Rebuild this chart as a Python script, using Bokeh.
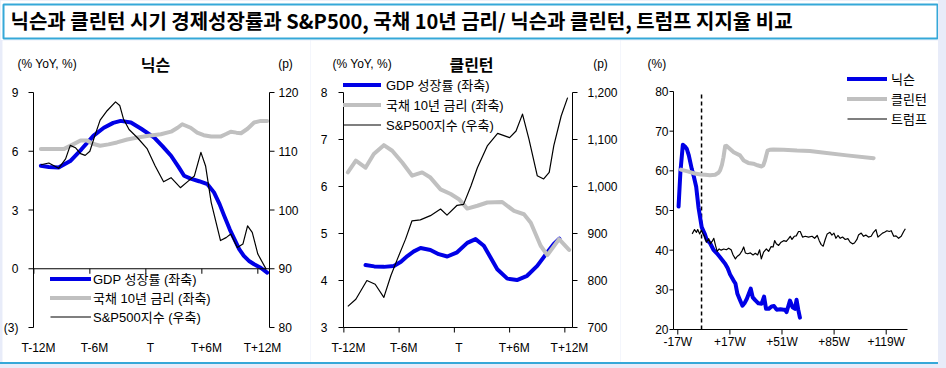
from bokeh.plotting import figure
from bokeh.models import (Range1d, Label, Legend, LegendItem, Spacer, GlobalInlineStyleSheet)
from bokeh.layouts import column, row
from bokeh.core.properties import value
from bokeh.embed import file_html
from bokeh.resources import INLINE

# ---------------- data ----------------
TITLE = "닉슨과 클린턴 시기 경제성장률과 S&P500, 국채 10년 금리/ 닉슨과 클린턴, 트럼프 지지율 비교"

month_ticks = [-12, -6, 0, 6, 12]
month_labels = ["T-12M", "T-6M", "T", "T+6M", "T+12M"]

nx_left_ticks = [-3, 0, 3, 6, 9]
nx_left_labels = ["(3)", "0", "3", "6", "9"]
nx_right_ticks = [80, 90, 100, 110, 120]
nx_right_labels = ["80", "90", "100", "110", "120"]

cl_left_ticks = [3, 4, 5, 6, 7, 8]
cl_left_labels = ["3", "4", "5", "6", "7", "8"]
cl_right_ticks = [700, 800, 900, 1000, 1100, 1200]
cl_right_labels = ["700", "800", "900", "1,000", "1,100", "1,200"]

ap_ticks = [20, 30, 40, 50, 60, 70, 80]
ap_labels = ["20", "30", "40", "50", "60", "70", "80"]

# Nixon (months relative to T)
nx_gdp_m = [-11.75, -10.9, -9.85, -8.6, -7.4, -6.1, -5.0, -4.0, -3.2, -2.1, -1.0, 0.4, 1.3, 2.2, 3.0,
            3.6, 4.3, 5.2, 6.1, 6.8, 7.4, 7.9, 8.5, 9.0, 9.5, 10.0, 10.6, 11.1, 11.8, 12.5]
nx_gdp = [5.26, 5.2, 5.17, 5.5, 6.1, 6.8, 7.2, 7.45, 7.55, 7.47, 7.15, 6.7, 6.25, 5.77, 5.2,
          4.75, 4.6, 4.47, 4.32, 3.9, 3.3, 2.7, 2.0, 1.5, 1.0, 0.66, 0.38, 0.23, 0.05, -0.2]
nx_bond_m = [-11.75, -9.3, -8.3, -7.5, -6.8, -6.2, -5.4, -4.5, -3.6, -2.5, -1.4, 0.0, 1.1, 2.2, 2.9,
             3.4, 4.3, 5.0, 5.7, 6.5, 7.5, 8.1, 8.6, 9.2, 9.7, 10.4, 11.1, 11.8, 12.5]
nx_bond = [6.11, 6.11, 6.35, 6.55, 6.55, 6.38, 6.28, 6.35, 6.45, 6.6, 6.7, 6.8, 6.87, 7.0, 7.2,
           7.38, 7.2, 6.95, 6.82, 6.75, 6.75, 6.88, 7.0, 6.95, 6.92, 7.15, 7.47, 7.55, 7.55]
nx_sp_m = [-11.75, -10.9, -9.85, -9.1, -8.6, -8.05, -7.5, -7.0, -6.5, -6.0, -5.4, -4.65, -3.75, -3.3,
           -2.9, -2.3, -1.4, -0.35, 0.5, 1.4, 2.2, 3.2, 4.1, 4.7, 5.4, 5.9, 6.5, 7.5, 8.1, 8.6, 9.3,
           9.9, 10.4, 10.9, 11.5, 12.4]
nx_sp = [107.7, 108.0, 107.1, 108.7, 111.0, 110.6, 109.6, 109.3, 110.0, 112.5, 115.3, 116.9, 118.4, 117.8,
         115.5, 113.7, 112.3, 110.4, 107.5, 104.8, 105.5, 103.8, 105.0, 105.8, 109.8, 107.5, 101.3, 94.8,
         95.3, 95.9, 93.6, 94.2, 97.3, 96.2, 92.5, 89.9]

# Clinton (months relative to T)
cl_gdp_m = [-10.15, -9.2, -8.16, -7.07, -6.3, -5.6, -4.9, -4.17, -3.1, -2.2, -1.27, -0.2, 0.9, 1.8,
            2.7, 3.4, 4.16, 5.25, 6.3, 7.4, 8.5, 9.6, 10.3, 10.9]
cl_gdp = [4.33, 4.3, 4.29, 4.31, 4.4, 4.52, 4.62, 4.69, 4.65, 4.56, 4.51, 4.6, 4.8, 4.88,
          4.74, 4.5, 4.24, 4.04, 4.01, 4.1, 4.31, 4.6, 4.78, 4.89]
cl_bond_m = [-12.07, -11.2, -10.15, -9.25, -8.16, -7.25, -6.16, -5.08, -4.0, -3.1, -2.0, -0.9, 0.0,
             0.9, 2.0, 3.08, 4.7, 5.98, 7.06, 7.8, 8.87, 9.6, 10.87, 11.96]
cl_bond = [6.3, 6.55, 6.4, 6.69, 6.88, 6.76, 6.51, 6.23, 6.3, 6.19, 5.94, 5.84, 5.73,
           5.53, 5.59, 5.66, 5.67, 5.48, 5.41, 5.23, 4.74, 4.54, 4.88, 4.65]
cl_sp_m = [-12.07, -11.2, -10.0, -9.1, -8.16, -7.4, -6.7, -5.8, -5.1, -4.2, -3.1, -2.0, -1.3, -0.2,
           0.5, 1.3, 2.0, 3.1, 4.2, 5.5, 6.2, 6.9, 7.6, 8.5, 9.2, 9.8, 10.3, 11.1, 11.8]
cl_sp = [745, 760, 800, 792, 764, 810, 845, 888, 927, 929, 938, 952, 939, 960,
         962, 1001, 1040, 1087, 1113, 1104, 1118, 1154, 1101, 1023, 1016, 1030, 1087, 1150, 1189]

# Approval ratings (weeks)
week_ticks = [-17, 17, 51, 85, 119]
week_labels = ["-17W", "+17W", "+51W", "+85W", "+119W"]
inaug_week = -1.5

nixon_w = [-16.5, -15.3, -13.7, -12.0, -11.1, -9.8, -7.9, -6.5, -5.0, -3.5, -1.4, 0.5, 1.9, 4.0, 6.3,
           8.5, 10.6, 13.9, 15.5, 17.1, 19.3, 20.6, 21.9, 23.5, 25.2, 26.5, 28.0, 30.6, 31.9, 33.5,
           35.6, 37.7, 39.3, 40.6, 42.3, 44.2, 45.8, 47.5, 50.0, 52.1, 53.0, 54.0, 55.2, 56.2, 57.9,
           59.5, 60.5, 61.6, 62.7]
nixon_v = [51.0, 59.7, 66.6, 66.0, 65.5, 63.9, 60.5, 58.5, 56.0, 50.8, 45.8, 44.2, 42.6, 41.8, 40.1,
           39.2, 38.2, 36.6, 35.5, 33.9, 32.4, 31.6, 29.0, 27.5, 26.0, 26.6, 27.7, 30.3, 28.1, 27.4,
           26.6, 26.5, 28.3, 25.2, 25.2, 25.8, 25.9, 25.0, 25.1, 25.0, 25.0, 24.4, 26.0, 27.3, 25.6,
           25.2, 27.5, 25.0, 23.0]
clinton_w = [-15.0, -10.0, -6.8, -2.0, 0.8, 4.0, 7.4, 9.5, 10.6, 11.8, 12.8, 13.9, 14.7, 17.1, 19.5,
             23.6, 26.0, 29.0, 32.3, 35.0, 37.7, 38.8, 39.9, 40.8, 41.6, 43.0, 45.3, 52.0, 60.8, 69.2,
             76.0, 93.4, 110.8]
clinton_v = [60.3, 59.8, 59.4, 59.1, 59.0, 58.9, 59.0, 59.5, 60.1, 61.5, 63.4, 66.2, 66.3, 65.5, 64.7,
             63.9, 62.6, 62.0, 61.8, 61.4, 61.1, 61.4, 62.6, 64.0, 65.1, 65.3, 65.4, 65.3, 65.1, 65.0,
             64.7, 63.9, 63.2]
trump_w = [-7.6, -6.1, -4.8, -4.0, -2.7, -1.6, -0.5, 0.4, 1.7, 3.2, 4.3, 5.4, 6.5, 7.6, 8.7, 10.0,
           11.3, 13.0, 14.7, 16.2, 17.8, 19.1, 20.6, 21.7, 23.4, 25.0, 26.0, 27.1, 28.6, 30.4, 32.1,
           33.6, 35.1, 36.4, 37.5, 39.0, 40.8, 42.3, 43.9, 45.2, 46.2, 47.3, 48.8, 50.4, 52.1, 53.8,
           55.3, 56.4, 57.5, 59.0, 60.3, 61.8,
           62.9, 64.4, 66.2, 68.3, 70.6, 72.3, 74.0, 75.3, 76.6, 77.9, 79.2, 80.5, 82.3, 83.6, 84.9,
           86.2, 87.5, 89.0, 90.5, 92.3, 94.0, 95.5, 97.0, 98.3, 99.9, 100.9, 102.7, 104.2, 105.7,
           107.4, 109.2, 110.7, 112.3, 113.6, 115.1, 116.6, 117.9, 119.5, 121.0, 122.3, 123.9, 125.4,
           127.1, 128.8, 130.4, 131.5]
trump_v = [44.1, 45.2, 44.5, 45.2, 44.1, 45.0, 44.1, 43.5, 42.0, 42.9, 41.6, 42.2, 43.0, 41.2, 39.7, 40.3,
           40.0, 40.3, 40.1, 40.5, 40.1, 38.8, 37.8, 38.4, 38.9, 39.9, 40.8, 39.3, 39.1, 39.3, 38.8,
           39.2, 38.8, 40.1, 37.8, 39.5, 40.3, 39.7, 40.9, 40.8, 42.4, 41.6, 41.2, 42.0, 42.4, 42.2,
           42.9, 43.5, 42.7, 43.5, 43.6, 44.7,
           44.7, 43.3, 43.5, 43.3, 43.5, 43.0, 43.7, 42.4, 41.4, 41.0, 42.7, 44.1, 44.5, 43.8, 44.3,
           43.0, 43.7, 43.0, 43.3, 42.7, 42.9, 42.0, 41.6, 41.8, 42.7, 43.8, 44.3, 43.5, 43.8,
           43.3, 43.5, 44.5, 45.2, 43.3, 43.8, 44.3, 44.5, 44.9, 44.7, 44.9, 43.5, 43.6,
           43.0, 43.5, 44.7, 45.4]

# ---------------- style ----------------
FONT = "Liberation Sans, Noto Sans CJK KR"
BLUE = "#0000e6"
GRAY = "#c0c0c0"
BLACK = "#000000"
FRAME_BLUE = "#35a8d8"
PAGE_BG = "#e8ecf9"
H = 322


class Panel:
    """A figure whose frame fills it; the chart's plot box sits at given pixel insets."""

    def __init__(self, w, box, xr, yr):
        left, right, top, bottom = box
        self.kx = (xr[1] - xr[0]) / (w - left - right)
        self.ky = (yr[1] - yr[0]) / (H - top - bottom)
        self.box = box
        self.xr, self.yr = xr, yr
        self.p = figure(width=w, height=H,
                        x_range=Range1d(xr[0] - left * self.kx, xr[1] + right * self.kx),
                        y_range=Range1d(yr[0] - bottom * self.ky, yr[1] + top * self.ky),
                        min_border=0, x_axis_location=None, y_axis_location=None,
                        output_backend="svg", toolbar_location=None)
        p = self.p
        p.xgrid.visible = False
        p.ygrid.visible = False
        p.outline_line_color = None
        p.background_fill_color = "white"
        p.border_fill_color = "white"

    def extra(self, name, yr):
        top, bottom = self.box[2], self.box[3]
        k = (yr[1] - yr[0]) / (H - top - bottom)
        self.p.extra_y_ranges = {name: Range1d(yr[0] - bottom * k, yr[1] + top * k)}
        return k

    def seg(self, x0, y0, x1, y1, rn="default", **kw):
        self.p.segment(x0=x0, y0=y0, x1=x1, y1=y1, line_color=BLACK, line_width=1,
                       y_range_name=rn, **kw)

    def text(self, x, y, t, align="left", size="12px", bold=False, rn="default"):
        self.p.text(x=x, y=y, text=t, text_align=align, text_baseline="middle",
                    text_font=value(FONT), text_font_size=value(size),
                    text_font_style=value("bold" if bold else "normal"), text_color=BLACK,
                    y_range_name=rn)

    def vaxis(self, x, ticks, labels, side, standoff, tick_len=5, rn="default", ky=None):
        ky = self.ky if ky is None else ky
        n = len(ticks)
        d = -1 if side == "left" else 1
        self.seg([x], [ticks[0]], [x], [ticks[-1]], rn=rn)
        self.seg([x] * n, ticks, [x + d * tick_len * self.kx] * n, ticks, rn=rn)
        self.text([x + d * (tick_len + standoff) * self.kx] * n, ticks, labels,
                  align="right" if side == "left" else "left", rn=rn)

    def hline_ticks(self, y, xlo, xhi, tick_pos, tick_len=5):
        n = len(tick_pos)
        self.seg([xlo], [y], [xhi], [y])
        self.seg(tick_pos, [y] * n, tick_pos, [y - tick_len * self.ky] * n)

    def xlabels(self, pos, labels, y, dy_px):
        self.text(pos, [y - dy_px * self.ky] * len(pos), labels, align="center")

    def legend(self, items, loc, gw, standoff, size="12px", spacing=0):
        lg = Legend(items=[LegendItem(label=l, renderers=[r]) for l, r in items], location=loc,
                    glyph_width=gw, glyph_height=17, label_height=17, label_standoff=standoff,
                    spacing=spacing, padding=0, margin=0, border_line_color=None,
                    background_fill_alpha=0, label_text_font=FONT, label_text_font_size=size,
                    label_text_color=BLACK)
        self.p.add_layout(lg)


# ---------------- title ----------------
tf = figure(width=938, height=40, x_range=Range1d(0, 934), y_range=Range1d(0, 34),
            min_border_left=3, min_border_right=1, min_border_top=4, min_border_bottom=2,
            x_axis_location=None, y_axis_location=None, output_backend="svg", toolbar_location=None)
tf.xgrid.visible = False
tf.ygrid.visible = False
tf.outline_line_color = FRAME_BLUE
tf.outline_line_width = 2
tf.border_fill_color = "white"
tf.add_layout(Label(x=7, y=18, text=TITLE, text_font="Noto Sans CJK KR", text_font_style="bold",
                    text_font_size="20px", text_baseline="middle", text_color=BLACK))

# ---------------- chart 1: Nixon ----------------
c1 = Panel(308, (31, 41, 52, 35), (-12.54, 12.75), (-3, 9))
k1r = c1.extra("sp", (80, 120))
p1 = c1.p
x0, x1 = c1.xr
r1a = p1.line(nx_gdp_m, nx_gdp, line_color=BLUE, line_width=4, line_join="round", line_cap="round")
r1b = p1.line(nx_bond_m, nx_bond, line_color=GRAY, line_width=4, line_join="round", line_cap="round")
r1c = p1.line(nx_sp_m, nx_sp, y_range_name="sp", line_color=BLACK, line_width=1.2, line_join="round")
c1.vaxis(x0, nx_left_ticks, nx_left_labels, "left", 10)
c1.vaxis(x1, nx_right_ticks, nx_right_labels, "right", 4, rn="sp")
c1.hline_ticks(0, x0, x1, [m - 0.5 for m in month_ticks])
c1.xlabels(month_ticks, month_labels, nx_left_ticks[0], 20)
ytop = nx_left_ticks[-1]
c1.text([x0 - 16 * c1.kx], [ytop + 29 * c1.ky], ["(% YoY, %)"])
c1.text([x0 + 122 * c1.kx], [ytop + 27 * c1.ky], ["닉슨"], align="center", size="16px", bold=True)
c1.text([x1 + 16 * c1.kx], [ytop + 29 * c1.ky], ["(p)"], align="center")
c1.legend([("GDP 성장률 (좌축)", r1a), ("국채 10년 금리 (좌축)", r1b), ("S&P500지수 (우축)", r1c)],
          (48, 36), 41, 2, size="13px")

# ---------------- chart 2: Clinton ----------------
c2 = Panel(310, (33, 48, 52, 35), (-12.54, 12.33), (3, 8))
c2.extra("sp", (700, 1200))
p2 = c2.p
x0, x1 = c2.xr
r2a = p2.line(cl_gdp_m, cl_gdp, line_color=BLUE, line_width=4, line_join="round", line_cap="round")
r2b = p2.line(cl_bond_m, cl_bond, line_color=GRAY, line_width=4, line_join="round", line_cap="round")
r2c = p2.line(cl_sp_m, cl_sp, y_range_name="sp", line_color=BLACK, line_width=1.2, line_join="round")
c2.vaxis(x0, cl_left_ticks, cl_left_labels, "left", 11)
c2.vaxis(x1, cl_right_ticks, cl_right_labels, "right", 10, rn="sp")
c2.hline_ticks(cl_left_ticks[0], x0, x1, [m - 0.5 for m in month_ticks])
c2.xlabels(month_ticks, month_labels, cl_left_ticks[0], 20)
ytop = cl_left_ticks[-1]
c2.text([x0 - 11 * c2.kx], [ytop + 29 * c2.ky], ["(% YoY, %)"])
c2.text([x0 + 128 * c2.kx], [ytop + 27 * c2.ky], ["클린턴"], align="center", size="16px", bold=True)
c2.text([x1 + 28 * c2.kx], [ytop + 29 * c2.ky], ["(p)"], align="center")
c2.legend([("GDP 성장률 (좌축)", r2a), ("국채 10년 금리 (좌축)", r2b), ("S&P500지수 (우축)", r2c)],
          (33, 228), 38, 5, size="13px", spacing=1)

# ---------------- chart 3: approval ----------------
c3 = Panel(318, (53, 31, 51, 33), (-19.8, 132.9), (20, 80))
p3 = c3.p
x0, x1 = c3.xr
p3.segment(x0=[inaug_week], y0=[ap_ticks[0]], x1=[inaug_week], y1=[ap_ticks[-1]], line_color=BLACK,
           line_width=1.5, line_dash="4 3")
r3a = p3.line(nixon_w, nixon_v, line_color=BLUE, line_width=4, line_join="round", line_cap="round")
r3b = p3.line(clinton_w, clinton_v, line_color=GRAY, line_width=4, line_join="round", line_cap="round")
r3c = p3.line(trump_w, trump_v, line_color=BLACK, line_width=1.2, line_join="round")
c3.vaxis(x0, ap_ticks, ap_labels, "left", 1, tick_len=4)
c3.hline_ticks(ap_ticks[0], x0, x1, week_ticks)
c3.xlabels(week_ticks, week_labels, ap_ticks[0], 12)
c3.text([x0 - 26 * c3.kx], [ap_ticks[-1] + 28 * c3.ky], ["(%)"])
c3.legend([("닉슨", r3a), ("클린턴", r3b), ("트럼프", r3c)], (227, 234), 40, 4, size="13px", spacing=1)

# ---------------- layout ----------------
bottom_line = Spacer(width=938, height=2, styles={"background-color": FRAME_BLUE})
root = column(tf, row(Spacer(width=2, height=H), p1, p2, p3), bottom_line)
root.stylesheets = [GlobalInlineStyleSheet(
    css="html, body { margin: 0 !important; padding: 0; background: %s; overflow: hidden; }" % PAGE_BG)]

open("out.html", "w").write(file_html(root, INLINE))
